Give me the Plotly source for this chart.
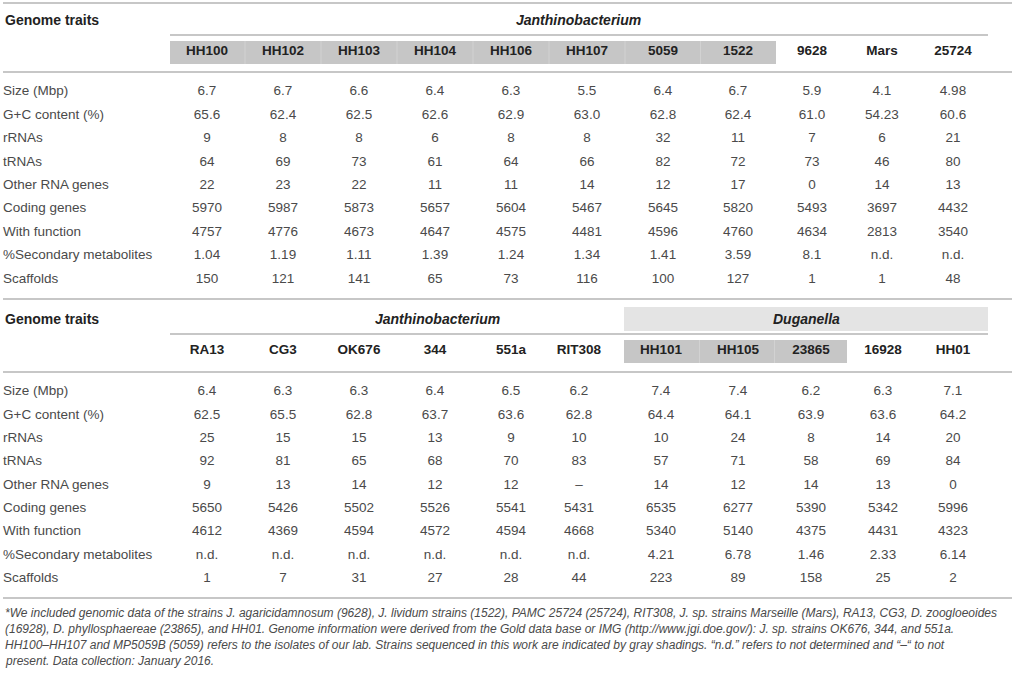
import plotly.graph_objects as go

# genome traits (row labels, shared by both tables)
traits = ["Size (Mbp)", "G+C content (%)", "rRNAs", "tRNAs", "Other RNA genes",
          "Coding genes", "With function", "%Secondary metabolites", "Scaffolds"]

# upper table
strains_top = ["HH100", "HH102", "HH103", "HH104", "HH106", "HH107", "5059", "1522", "9628", "Mars", "25724"]
size_top = ["6.7", "6.7", "6.6", "6.4", "6.3", "5.5", "6.4", "6.7", "5.9", "4.1", "4.98"]
gc_top = ["65.6", "62.4", "62.5", "62.6", "62.9", "63.0", "62.8", "62.4", "61.0", "54.23", "60.6"]
rrna_top = ["9", "8", "8", "6", "8", "8", "32", "11", "7", "6", "21"]
trna_top = ["64", "69", "73", "61", "64", "66", "82", "72", "73", "46", "80"]
other_top = ["22", "23", "22", "11", "11", "14", "12", "17", "0", "14", "13"]
coding_top = ["5970", "5987", "5873", "5657", "5604", "5467", "5645", "5820", "5493", "3697", "4432"]
func_top = ["4757", "4776", "4673", "4647", "4575", "4481", "4596", "4760", "4634", "2813", "3540"]
secmet_top = ["1.04", "1.19", "1.11", "1.39", "1.24", "1.34", "1.41", "3.59", "8.1", "n.d.", "n.d."]
scaf_top = ["150", "121", "141", "65", "73", "116", "100", "127", "1", "1", "48"]

# lower table
strains_bottom = ["RA13", "CG3", "OK676", "344", "551a", "RIT308", "HH101", "HH105", "23865", "16928", "HH01"]
size_bottom = ["6.4", "6.3", "6.3", "6.4", "6.5", "6.2", "7.4", "7.4", "6.2", "6.3", "7.1"]
gc_bottom = ["62.5", "65.5", "62.8", "63.7", "63.6", "62.8", "64.4", "64.1", "63.9", "63.6", "64.2"]
rrna_bottom = ["25", "15", "15", "13", "9", "10", "10", "24", "8", "14", "20"]
trna_bottom = ["92", "81", "65", "68", "70", "83", "57", "71", "58", "69", "84"]
other_bottom = ["9", "13", "14", "12", "12", "–", "14", "12", "14", "13", "0"]
coding_bottom = ["5650", "5426", "5502", "5526", "5541", "5431", "6535", "6277", "5390", "5342", "5996"]
func_bottom = ["4612", "4369", "4594", "4572", "4594", "4668", "5340", "5140", "4375", "4431", "4323"]
secmet_bottom = ["n.d.", "n.d.", "n.d.", "n.d.", "n.d.", "n.d.", "4.21", "6.78", "1.46", "2.33", "6.14"]
scaf_bottom = ["1", "7", "31", "27", "28", "44", "223", "89", "158", "25", "2"]

footnote = [
    "*We included genomic data of the strains J. agaricidamnosum (9628), J. lividum strains (1522), PAMC 25724 (25724), RIT308, J. sp. strains Marseille (Mars), RA13, CG3, D. zoogloeoides",
    "(16928), D. phyllosphaereae (23865), and HH01. Genome information were derived from the Gold data base or IMG (http://www.jgi.doe.gov/): J. sp. strains OK676, 344, and 551a.",
    "HH100–HH107 and MP5059B (5059) refers to the isolates of our lab. Strains sequenced in this work are indicated by gray shadings. “n.d.” refers to not determined and “–“ to not",
    "present. Data collection: January 2016.",
]

rows_top = [size_top, gc_top, rrna_top, trna_top, other_top, coding_top, func_top, secmet_top, scaf_top]
rows_bottom = [size_bottom, gc_bottom, rrna_bottom, trna_bottom, other_bottom, coding_bottom, func_bottom, secmet_bottom, scaf_bottom]

# layout in page pixels
W, H = 1017, 676
col_x_top = [207, 283, 359, 435, 511, 587, 663, 738, 812, 882, 953]
col_x_bottom = [207, 283, 359, 435, 511, 579, 661, 738, 811, 883, 953]
row_y_top = [92 + 23.4 * i for i in range(len(traits))]
row_y_bottom = [392 + 23.35 * i for i in range(len(traits))]

BODY = "Liberation Sans"
TXT = "#4a4a4a"
HEAD = "#222222"
LINE = "#b4b4b4"
DARK = "#c6c6c6"
LIGHT = "#e4e4e4"

fig = go.Figure()


def add_table(rows, strains, col_x, row_y, head_y):
    xs, ys, ts = [], [], []
    for r, vals in enumerate(rows):
        for c, v in enumerate(vals):
            xs.append(col_x[c])
            ys.append(row_y[r])
            ts.append(v)
    fig.add_trace(go.Scatter(x=xs, y=ys, text=ts, mode="text", textposition="middle center",
                             textfont=dict(family=BODY, size=13.5, color=TXT), hoverinfo="skip"))
    # row labels
    fig.add_trace(go.Scatter(x=[3] * len(traits), y=row_y, text=traits, mode="text",
                             textposition="middle right",
                             textfont=dict(family=BODY, size=13.5, color=TXT), hoverinfo="skip"))
    # strain headers
    fig.add_trace(go.Scatter(x=col_x, y=[head_y] * len(strains), text=["<b>%s</b>" % s for s in strains],
                             mode="text", textposition="middle center",
                             textfont=dict(family=BODY, size=13.5, color=HEAD), hoverinfo="skip"))


def hline(y, x0=3, x1=1012, w=1.6, color=LINE):
    fig.add_shape(type="line", x0=x0, x1=x1, y0=y, y1=y, line=dict(color=color, width=w), layer="below")


def box(x0, x1, y0, y1, color):
    fig.add_shape(type="rect", x0=x0, x1=x1, y0=y0, y1=y1, fillcolor=color, line=dict(width=0), layer="below")


def vsep(xs, y0, y1):
    for x in xs:
        fig.add_shape(type="line", x0=x, x1=x, y0=y0, y1=y1, line=dict(color="#d2d2d2", width=1), layer="below")


# upper table frame
hline(3)
hline(35, 170, 988, 1.3)
hline(72)
box(170, 776, 41, 64, DARK)
vsep([(col_x_top[i] + col_x_top[i + 1]) / 2 for i in range(7)], 41, 64)

# lower table frame
hline(299)
box(624, 988, 307, 331, LIGHT)
hline(334, 170, 988, 1.3)
hline(372)
box(624, 847, 340, 363, DARK)
vsep([(col_x_bottom[i] + col_x_bottom[i + 1]) / 2 for i in range(6, 8)], 340, 363)
hline(598)

add_table(rows_top, strains_top, col_x_top, row_y_top, 52)
add_table(rows_bottom, strains_bottom, col_x_bottom, row_y_bottom, 351)

# group headers
for x, y, t in [(3, 20, "<b>Genome traits</b>"), (3, 319, "<b>Genome traits</b>")]:
    fig.add_annotation(x=x, y=y, text=t, showarrow=False, xanchor="left", yanchor="middle",
                       font=dict(family=BODY, size=14, color=HEAD))
for x, y, t in [(578, 20, "Janthinobacterium"), (437, 319, "Janthinobacterium"), (806, 319, "Duganella")]:
    fig.add_annotation(x=x, y=y, text="<b><i>%s</i></b>" % t, showarrow=False, xanchor="center",
                       yanchor="middle", font=dict(family=BODY, size=14, color=HEAD))

for i, line in enumerate(footnote):
    fig.add_annotation(x=3, y=613 + 16 * i, text="<i>%s</i>" % line, showarrow=False, xanchor="left",
                       yanchor="middle", font=dict(family=BODY, size=12, color=TXT))

fig.update_xaxes(range=[0, W], visible=False, fixedrange=True)
fig.update_yaxes(range=[H, 0], visible=False, fixedrange=True)
fig.update_layout(width=W, height=H, margin=dict(l=0, r=0, t=0, b=0),
                  plot_bgcolor="white", paper_bgcolor="white", showlegend=False)

fig.write_html("out.html", config={"displayModeBar": False},
               post_script="document.body.style.margin='0';")
